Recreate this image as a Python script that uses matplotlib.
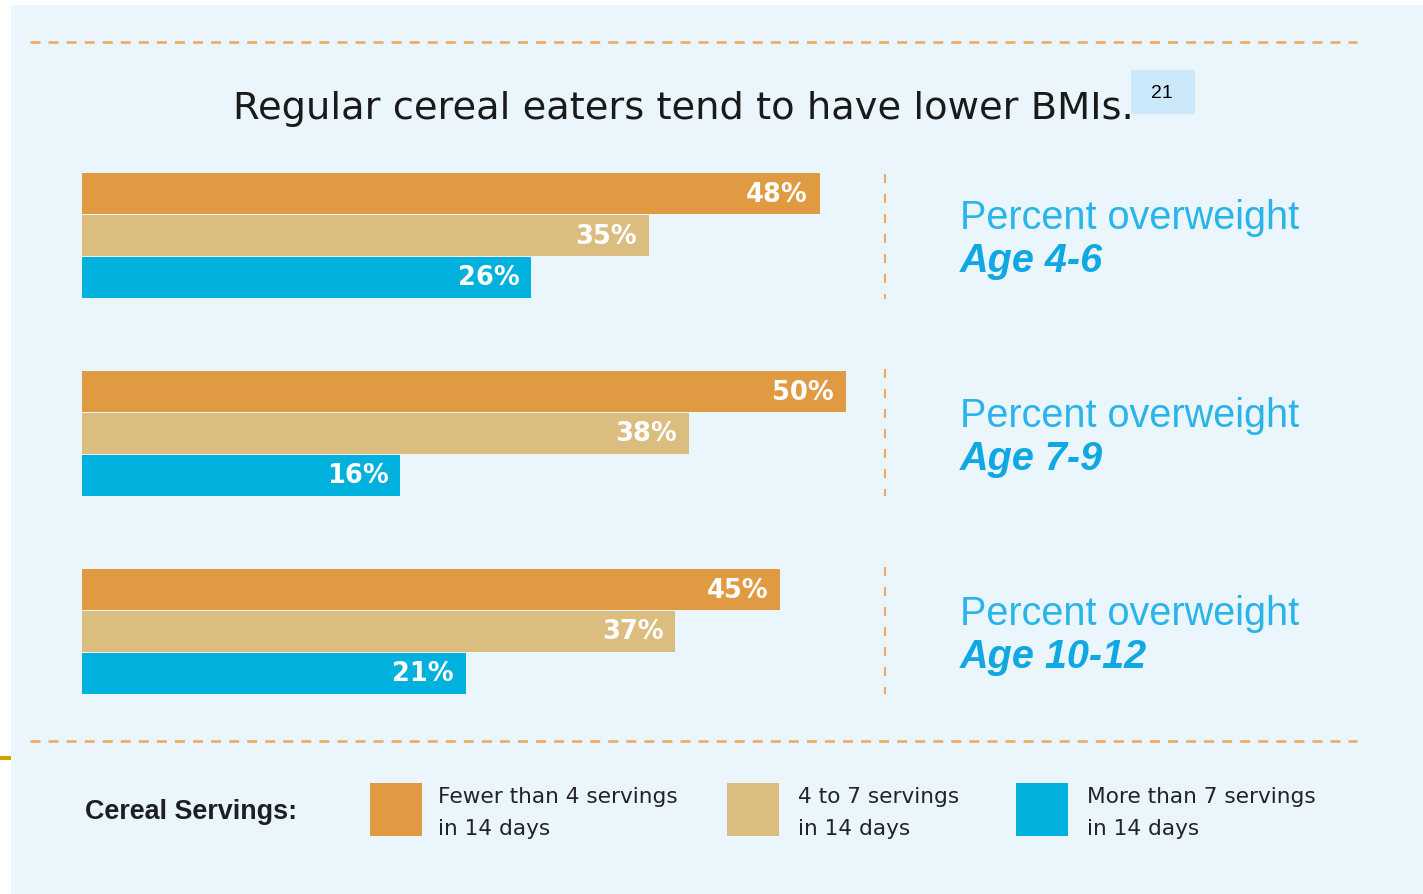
import matplotlib
matplotlib.use("Agg")
import matplotlib.pyplot as plt
from matplotlib.lines import Line2D
from matplotlib.patches import Rectangle
import numpy as np

plt.rcParams['lines.scale_dashes'] = False

# ---------------- data ----------------
age_groups = ["Age 4-6", "Age 7-9", "Age 10-12"]
series_names = ["Fewer than 4 servings\nin 14 days",
                "4 to 7 servings\nin 14 days",
                "More than 7 servings\nin 14 days"]
fewer_than_4 = [48, 50, 45]
four_to_7 = [35, 38, 37]
more_than_7 = [26, 16, 21]
title = "Regular cereal eaters tend to have lower BMIs."
group_heading = "Percent overweight"
legend_title = "Cereal Servings:"
footnote = "21"

# ---------------- style ----------------
W, H = 1423, 895
C_ORANGE = "#e09a42"
C_TAN = "#dbbd7f"
C_BLUE = "#00b1de"
C_BG = "#ebf6fc"
C_DASH = "#eeaa62"
C_LBLUE = "#2ab4ea"
C_DBLUE = "#10a8e2"
colors = [C_ORANGE, C_TAN, C_BLUE]


def fx(x):
    return x / W


def fy(y):
    return 1 - y / H


fig = plt.figure(figsize=(W / 100, H / 100), dpi=100)
fig.patch.set_facecolor("white")

# background panel
fig.patches.append(Rectangle((fx(11), fy(H)), fx(W - 11), 1 - 6 / H,
                             transform=fig.transFigure, facecolor=C_BG,
                             edgecolor="none", zorder=-5))
# small gold mark on the left edge
fig.patches.append(Rectangle((0, fy(761)), fx(11), 4 / H,
                             transform=fig.transFigure, facecolor="#d4a000",
                             edgecolor="none", zorder=-4))

# horizontal dashed separators
for yy in (43, 742):
    fig.lines.append(Line2D([fx(30), fx(1357)], [fy(yy), fy(yy)],
                            transform=fig.transFigure, color=C_DASH,
                            linewidth=1.9, dashes=(7.2, 5.8), zorder=2))

# ---------------- bars ----------------
x_min = -8.3
ax_left, ax_right = 82, 870
ax_top, ax_bot = 137.5, 731.5
ax = fig.add_axes([fx(ax_left), fy(ax_bot), fx(ax_right - ax_left),
                   (ax_bot - ax_top) / H])
ax.set_zorder(3)
ax.set_facecolor("none")
ax.set_xlim(x_min, x_min + (ax_right - ax_left) / 13.1)
ax.set_ylim(2.5, -0.5)
ax.axis("off")

series = [fewer_than_4, four_to_7, more_than_7]
y_base = np.arange(len(age_groups))
step = 0.212
bar_h = 0.203
for i, vals in enumerate(series):
    ys = y_base + (i - 1) * step
    vals = np.array(vals, dtype=float)
    ax.barh(ys, vals - x_min, left=x_min, height=bar_h, color=colors[i],
            edgecolor="none")
    for yv, v in zip(ys, vals):
        ax.annotate(f"{int(v)}%", xy=(v, yv), xytext=(-8.6, 0),
                    textcoords="offset points", ha="right", va="center",
                    color="white", fontsize=18.5, fontweight="bold",
                    family="DejaVu Sans")

# vertical dashed separators next to groups
v_spans = [(175, 300), (370, 497), (568, 695)]
for (y0, y1) in v_spans:
    fig.lines.append(Line2D([fx(885), fx(885)], [fy(y0), fy(y1)],
                            transform=fig.transFigure, color=C_DASH,
                            linewidth=1.5, dashes=(6.5, 7.9), zorder=2))

# group labels on the right
for g, name in enumerate(age_groups):
    base = 229 + 198 * g
    fig.text(fx(960), fy(base), group_heading, ha="left", va="baseline",
             fontsize=28.5, color=C_LBLUE, family="Liberation Sans")
    fig.text(fx(960), fy(base + 43), name, ha="left", va="baseline",
             fontsize=28.5, color=C_DBLUE, family="Liberation Sans",
             fontweight="bold", style="italic")

# title
fig.text(fx(233), fy(119), title, ha="left", va="baseline", fontsize=27.6,
         color="#1a1a1a", family="DejaVu Sans")

# footnote box
fig.patches.append(Rectangle((fx(1131), fy(115)), fx(64), 44 / H,
                             transform=fig.transFigure, facecolor="#cce9fb",
                             edgecolor="none", zorder=1))
fig.text(fx(1162), fy(94), footnote, ha="center", va="center", fontsize=14,
         color="black", family="Liberation Sans", zorder=3)

# ---------------- legend ----------------
fig.text(fx(85), fy(819), legend_title, ha="left", va="baseline",
         fontsize=19.4, fontweight="bold", color="#1e1e28",
         family="Liberation Sans")
patch_x = [370, 727, 1016]
text_x = [438, 798, 1087]
for i in range(3):
    fig.patches.append(Rectangle((fx(patch_x[i]), fy(837)), fx(52), 53 / H,
                                 transform=fig.transFigure,
                                 facecolor=colors[i], edgecolor="none",
                                 zorder=2))
    line1, line2 = series_names[i].split("\n")
    fig.text(fx(text_x[i]), fy(803), line1, ha="left", va="baseline",
             fontsize=15.6, color="#23232d", family="DejaVu Sans")
    fig.text(fx(text_x[i]), fy(835), line2, ha="left", va="baseline",
             fontsize=15.6, color="#23232d", family="DejaVu Sans")

fig.savefig("out.png", dpi=100, facecolor=fig.get_facecolor())
